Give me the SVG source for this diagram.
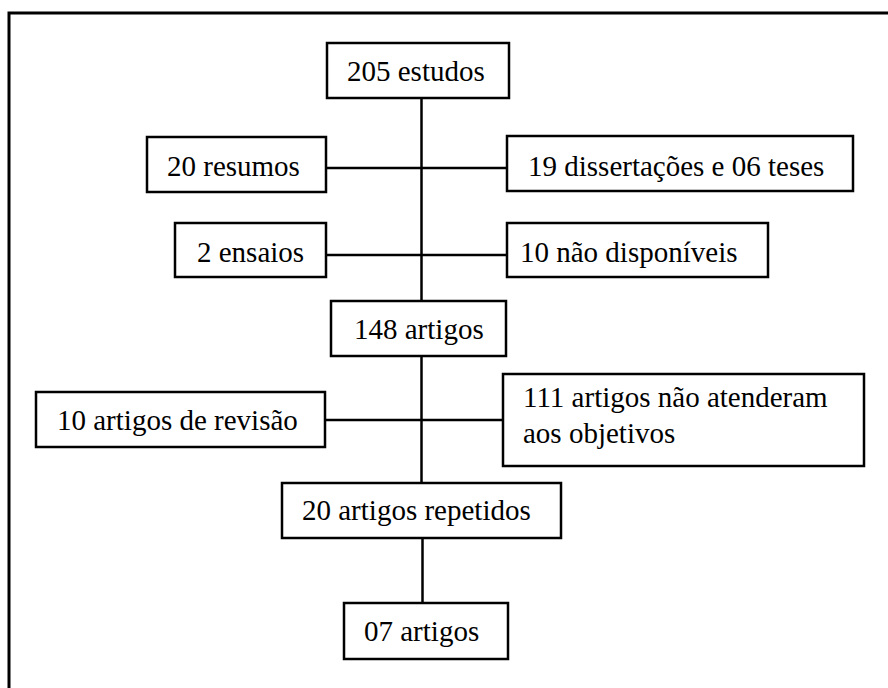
<svg xmlns="http://www.w3.org/2000/svg" width="888" height="688" viewBox="0 0 888 688">
<style>
.box{fill:#fff;stroke:#000;stroke-width:2.5}
.t{font-family:'Liberation Serif','Times New Roman',Tinos,'Noto Serif','DejaVu Serif',serif;font-size:29px;fill:#000}
.c{stroke:#000;stroke-width:2.5;fill:none}
</style>
<rect width="888" height="688" fill="#fff"/>
<path d="M9,688 V13 H888" fill="none" stroke="#000" stroke-width="3"/>
<g id="connectors">
<line class="c" x1="421.5" y1="98" x2="421.5" y2="301"/>
<line class="c" x1="326" y1="168" x2="507" y2="168"/>
<line class="c" x1="326" y1="255" x2="507" y2="255"/>
<line class="c" x1="421.5" y1="356" x2="421.5" y2="483"/>
<line class="c" x1="325" y1="420" x2="503" y2="420"/>
<line class="c" x1="422.5" y1="538" x2="422.5" y2="603"/>
</g>
<g id="n205"><rect class="box" x="327" y="43" width="182" height="55"/><text class="t" x="347" y="81" font-family="Liberation Serif, serif">205 estudos</text></g>
<g id="n20resumos"><rect class="box" x="147" y="137" width="179" height="55"/><text class="t" x="167" y="176" font-family="Liberation Serif, serif">20 resumos</text></g>
<g id="n19diss"><rect class="box" x="507" y="136" width="346" height="55"/><text class="t" x="528" y="176" font-family="Liberation Serif, serif">19 dissertações e 06 teses</text></g>
<g id="n2ensaios"><rect class="box" x="175" y="223" width="151" height="54"/><text class="t" x="197" y="262" font-family="Liberation Serif, serif">2 ensaios</text></g>
<g id="n10nao"><rect class="box" x="507" y="223" width="261" height="54"/><text class="t" x="520" y="262" font-family="Liberation Serif, serif">10 não disponíveis</text></g>
<g id="n148"><rect class="box" x="331" y="301" width="175" height="55"/><text class="t" x="354" y="339" font-family="Liberation Serif, serif">148 artigos</text></g>
<g id="n10rev"><rect class="box" x="36" y="392" width="289" height="55"/><text class="t" x="57" y="430" font-family="Liberation Serif, serif">10 artigos de revisão</text></g>
<g id="n111"><rect class="box" x="503" y="374" width="361" height="92"/><text class="t" x="523" y="407" font-family="Liberation Serif, serif">111 artigos não atenderam</text><text class="t" x="523" y="443" font-family="Liberation Serif, serif">aos objetivos</text></g>
<g id="n20rep"><rect class="box" x="282" y="483" width="279" height="55"/><text class="t" x="302" y="520" font-family="Liberation Serif, serif">20 artigos repetidos</text></g>
<g id="n07"><rect class="box" x="344" y="603" width="164" height="56"/><text class="t" x="364" y="641" font-family="Liberation Serif, serif">07 artigos</text></g>
</svg>
